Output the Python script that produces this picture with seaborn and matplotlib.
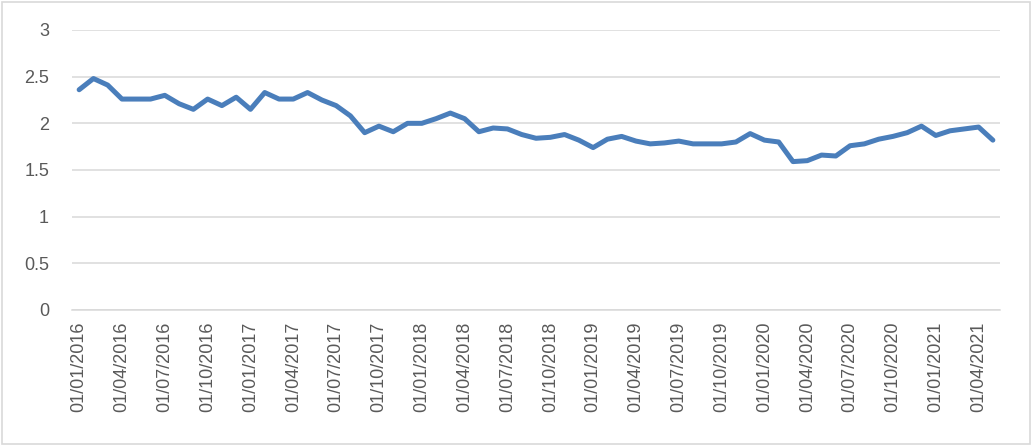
import numpy as np
import pandas as pd
import matplotlib
matplotlib.use("Agg")
import matplotlib.pyplot as plt
import seaborn as sns
from matplotlib.patches import Rectangle

# ---- data (monthly, Jan 2016 - May 2021) ----
months = pd.date_range("2016-01-01", periods=65, freq="MS")
values = [
    2.36, 2.48, 2.41, 2.26, 2.26, 2.26, 2.30, 2.21, 2.15, 2.26,
    2.19, 2.28, 2.15, 2.33, 2.26, 2.26, 2.33, 2.25, 2.19, 2.08,
    1.90, 1.97, 1.91, 2.00, 2.00, 2.05, 2.11, 2.05, 1.91, 1.95,
    1.94, 1.88, 1.84, 1.85, 1.88, 1.82, 1.74, 1.83, 1.86, 1.81,
    1.78, 1.79, 1.81, 1.78, 1.78, 1.78, 1.80, 1.89, 1.82, 1.80,
    1.59, 1.60, 1.66, 1.65, 1.76, 1.78, 1.83, 1.86, 1.90, 1.97,
    1.87, 1.92, 1.94, 1.96, 1.82,
]
y_ticks = [0, 0.5, 1, 1.5, 2, 2.5, 3]
y_tick_labels = ["0", "0.5", "1", "1.5", "2", "2.5", "3"]

df = pd.DataFrame({"idx": np.arange(len(months)), "value": values})
label_idx = list(range(0, len(months), 3))
x_tick_labels = [months[i].strftime("%d/%m/%Y") for i in label_idx]

sns.set_theme(style="white")
plt.rcParams["font.family"] = ["Liberation Sans", "DejaVu Sans"]

TEXT = "#595959"
GRID = "#D9D9D9"

fig = plt.figure(figsize=(10.31, 4.45), dpi=100)
ax = fig.add_axes([72 / 1031, (445 - 310) / 445, 928 / 1031, 280 / 445])

sns.lineplot(data=df, x="idx", y="value", ax=ax, color="#4A7EBB",
             linewidth=3.6, solid_joinstyle="round", solid_capstyle="round")

ax.set_xlim(-0.5, len(months) - 0.5)
ax.set_ylim(0, 3)
ax.set_xlabel("")
ax.set_ylabel("")

ax.set_yticks(y_ticks, y_tick_labels)
ax.yaxis.grid(True, color=GRID, linewidth=1.1)
ax.set_axisbelow(True)
ax.tick_params(axis="y", length=0, pad=16.5, labelsize=13, labelcolor=TEXT)

# tick marks at category boundaries, labels at category centers
ax.set_xticks([i - 0.5 for i in label_idx])
ax.set_xticklabels([])
ax.set_xticks(label_idx, x_tick_labels, minor=True)
ax.tick_params(axis="x", which="major", length=6, width=1, color=GRID, direction="out")
ax.tick_params(axis="x", which="minor", length=0, pad=8.5, labelsize=13,
               labelcolor=TEXT, labelrotation=90)
ax.xaxis.grid(False, which="both")

for s in ["top", "right", "left"]:
    ax.spines[s].set_visible(False)
ax.spines["bottom"].set_color(GRID)
ax.spines["bottom"].set_linewidth(1.1)

fig.patches.append(Rectangle((1.5 / 1031, 1.5 / 445), 1 - 3 / 1031, 1 - 3 / 445,
                             transform=fig.transFigure, fill=False,
                             edgecolor=GRID, linewidth=1.2))

fig.savefig("out.png", dpi=100, facecolor="white")
